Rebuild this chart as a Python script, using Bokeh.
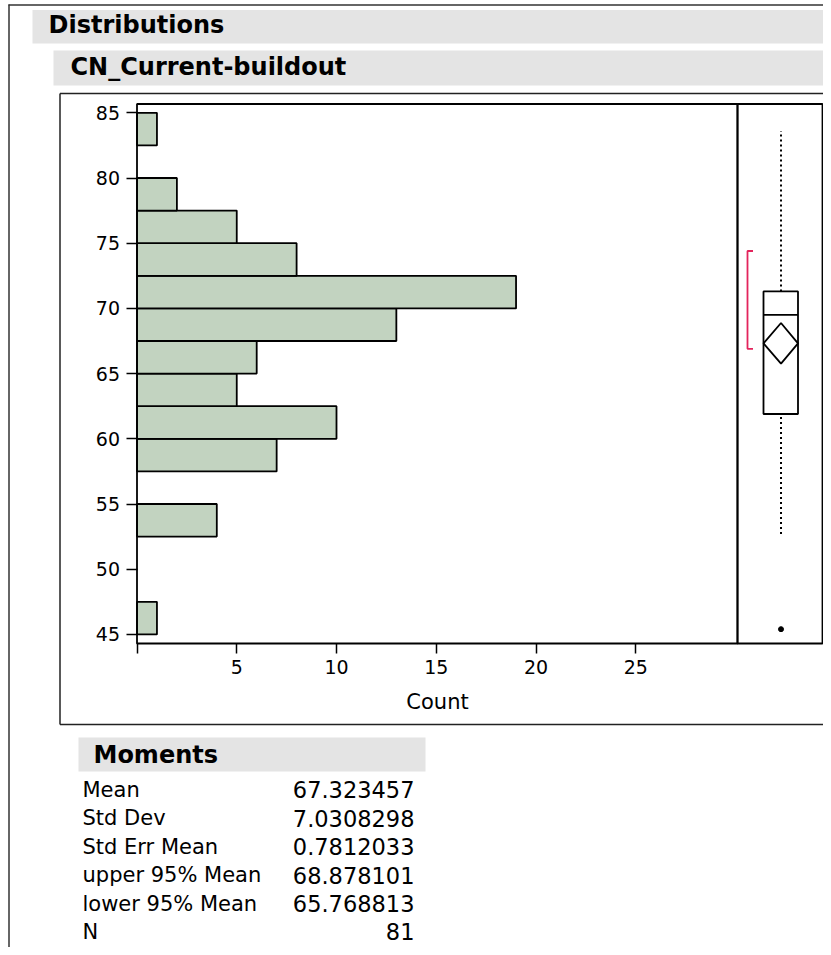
from bokeh.plotting import figure
from bokeh.models import Range1d, LinearAxis, FixedTicker
from bokeh.embed import file_html
from bokeh.resources import INLINE
from bokeh.core.properties import value

# ---------------- data ----------------
bin_low = [45.0, 47.5, 50.0, 52.5, 55.0, 57.5, 60.0, 62.5, 65.0, 67.5, 70.0, 72.5, 75.0, 77.5, 80.0, 82.5]
counts = [1, 0, 0, 4, 0, 7, 10, 5, 6, 13, 19, 8, 5, 2, 0, 1]
bin_width = 2.5

x_ticks = [0, 5, 10, 15, 20, 25]
y_ticks = [45, 50, 55, 60, 65, 70, 75, 80, 85]

# outlier box plot summary
whisker_low = 52.7
q1 = 61.9
median = 69.5
q3 = 71.3
whisker_high = 83.6
outliers = [45.4]
shortest_half = [66.9, 74.4]

moment_labels = ["Mean", "Std Dev", "Std Err Mean", "upper 95% Mean", "lower 95% Mean", "N"]
moment_values = ["67.323457", "7.0308298", "0.7812033", "68.878101", "65.768813", "81"]
mean = float(moment_values[0])
upper95 = float(moment_values[3])
lower95 = float(moment_values[4])

title_text = "Distributions"
column_text = "CN_Current-buildout"
moments_title = "Moments"
x_label = "Count"

# ---------------- geometry (picture pixels) ----------------
W, H = 823, 947
PX0, PY0 = 0, 0
X0_PX, X_SCALE = 136.5, 19.95      # x of count 0, px per count
Y85_PX, Y_SCALE = 112.3, 13.04     # y of value 85, px per unit

def val_at(py):
    return 85 - (py - Y85_PX) / Y_SCALE

def cnt_at(px):
    return (px - X0_PX) / X_SCALE

count_range = Range1d(cnt_at(PX0), cnt_at(PX0 + W))
val_range = Range1d(val_at(PY0 + H), val_at(PY0))

FONT_NAME = "DejaVu Sans"
FONT = value(FONT_NAME)

p = figure(width=W, height=H, x_range=count_range, y_range=val_range,
           output_backend="svg", toolbar_location=None, min_border=0,
           x_axis_location=None, y_axis_location=None,
           outline_line_color=None, background_fill_color="white",
           border_fill_color="white")
p.extra_x_ranges = {"px": Range1d(PX0, PX0 + W)}
p.extra_y_ranges = {"py": Range1d(PY0 + H, PY0)}
p.grid.grid_line_color = None

PXK = dict(x_range_name="px", y_range_name="py")

# page border
p.segment(x0=[8.5, 8], y0=[4, 4.5], x1=[8.5, 823], y1=[947, 4.5], line_color="#333333", line_width=1.5, **PXK)

# header bars
p.quad(left=[32], right=[823], top=[9.5], bottom=[43], fill_color="#e4e4e4", line_color=None, **PXK)
p.quad(left=[53], right=[823], top=[50], bottom=[85], fill_color="#e4e4e4", line_color=None, **PXK)
p.text(x=[48], y=[24.5], text=[title_text], text_font=FONT, text_font_style="bold",
       text_font_size="24px", text_baseline="middle", text_color="black", **PXK)
p.text(x=[70], y=[66.5], text=[column_text], text_font=FONT, text_font_style="bold",
       text_font_size="24px", text_baseline="middle", text_color="black", **PXK)

# outer report frame
p.segment(x0=[59.5, 59.5, 59.5], y0=[93, 93, 724], x1=[59.5, 823, 823], y1=[724, 93, 724],
          line_color="#222222", line_width=1.5, **PXK)

# histogram bars
nz = [i for i, c in enumerate(counts) if c > 0]
p.quad(left=[0] * len(nz), right=[counts[i] for i in nz],
       bottom=[bin_low[i] for i in nz], top=[bin_low[i] + bin_width for i in nz],
       fill_color="#c2d3c0", line_color="black", line_width=1.8)

# plot boxes
p.quad(left=[136.5, 737], right=[737, 822], top=[103.5, 103.5], bottom=[643, 643],
       fill_color=None, line_color="black", line_width=1.8, **PXK)

# box plot (horizontal positions in picture px, values on the value scale)
BX_L, BX_R, BX_C = 763, 797.5, 780.5
p.segment(x0=[BX_C, BX_C], y0=[whisker_low, q3], x1=[BX_C, BX_C], y1=[q1, whisker_high],
          line_color="black", line_width=2, line_dash="2 3", x_range_name="px")
p.quad(left=[BX_L], right=[BX_R], bottom=[q1], top=[q3], fill_color=None,
       line_color="black", line_width=1.8, x_range_name="px")
p.segment(x0=[BX_L], y0=[median], x1=[BX_R], y1=[median], line_color="black",
          line_width=1.8, x_range_name="px")
p.patch(x=[BX_L, BX_C, BX_R, BX_C], y=[mean, upper95, mean, lower95], fill_color=None,
        line_color="black", line_width=1.8, x_range_name="px")
p.multi_line(xs=[[752.5, 747, 747, 752.5]], ys=[[shortest_half[1], shortest_half[1], shortest_half[0], shortest_half[0]]],
             line_color="#e3245c", line_width=1.8, x_range_name="px")
p.scatter(x=[BX_C] * len(outliers), y=outliers, size=5, color="black", x_range_name="px")

# axes
yaxis = LinearAxis(fixed_location=0, ticker=FixedTicker(ticks=y_ticks),
                   axis_line_color=None, major_tick_out=11, major_tick_in=0,
                   minor_tick_out=0, minor_tick_in=0, major_tick_line_width=1.5,
                   major_tick_line_color="black",
                   major_label_text_font=FONT_NAME, major_label_text_font_size="19px",
                   major_label_text_color="black", major_label_standoff=6)
p.add_layout(yaxis, "left")

xaxis = LinearAxis(fixed_location=val_at(643), ticker=FixedTicker(ticks=x_ticks),
                   bounds=(0, cnt_at(737)), axis_line_color=None,
                   major_label_overrides={0: ""},
                   major_tick_out=10, major_tick_in=0, minor_tick_out=0, minor_tick_in=0,
                   major_tick_line_width=1.5, major_tick_line_color="black",
                   major_label_text_font=FONT_NAME, major_label_text_font_size="19px",
                   major_label_text_color="black", major_label_standoff=6,
                   axis_label=x_label, axis_label_text_font=FONT_NAME,
                   axis_label_text_font_size="21px", axis_label_text_font_style="normal",
                   axis_label_text_color="black", axis_label_standoff=13)
p.add_layout(xaxis, "below")

# Moments table
p.quad(left=[78], right=[425], top=[737], bottom=[771], fill_color="#e4e4e4", line_color=None, **PXK)
p.text(x=[93], y=[754], text=[moments_title], text_font=FONT, text_font_style="bold",
       text_font_size="24px", text_baseline="middle", text_color="black", **PXK)
row_y = [789, 817.5, 846, 874.5, 903, 931]
p.text(x=[82] * len(moment_labels), y=row_y, text=moment_labels, text_font=FONT,
       text_font_size="21px", text_baseline="middle", text_color="black", **PXK)
p.text(x=[414] * len(moment_values), y=row_y, text=moment_values, text_font=FONT,
       text_font_size="22.5px", text_baseline="middle", text_align="right",
       text_color="black", **PXK)

open("out.html", "w").write(file_html(p, INLINE))
